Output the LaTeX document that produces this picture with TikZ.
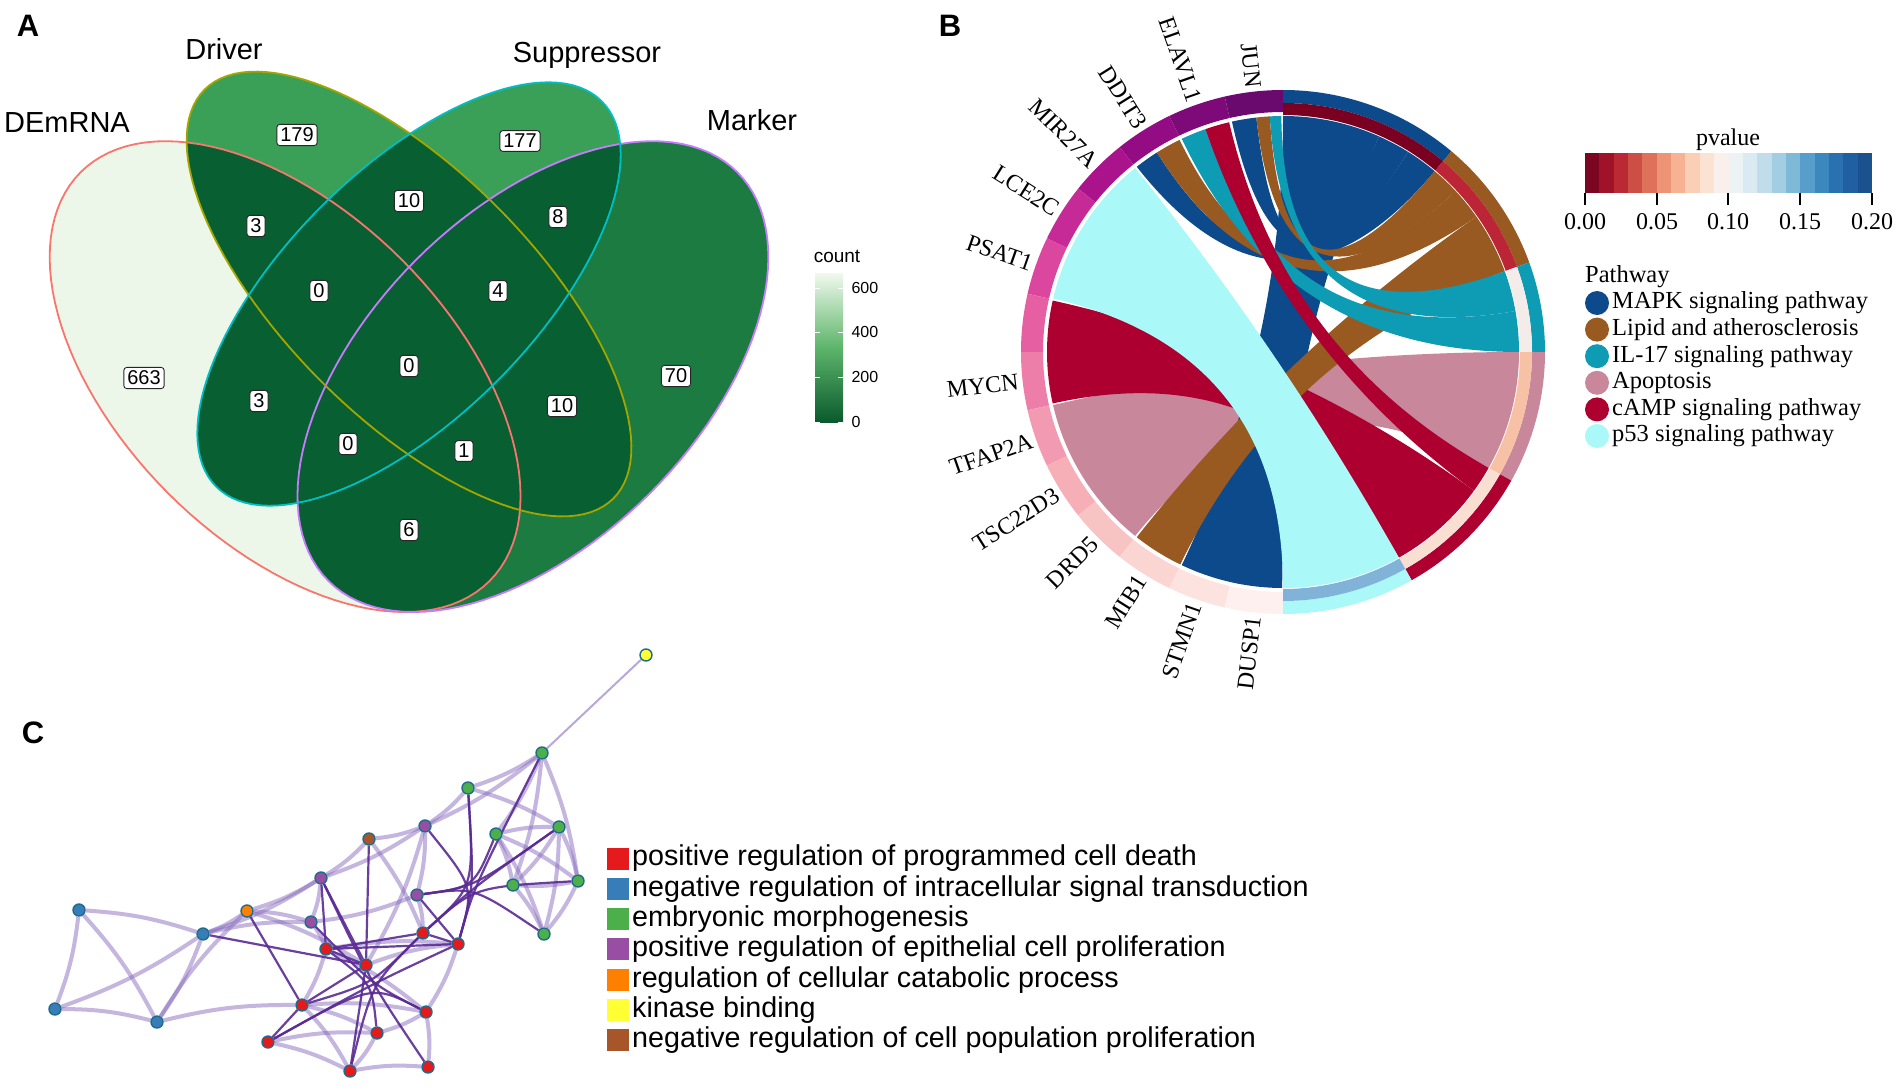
\documentclass[tikz,border=0pt]{standalone}
\usepackage{fontspec}
\setmainfont{Liberation Serif}
\setsansfont{Liberation Sans}
\usetikzlibrary{backgrounds}

\newcommand\fsz[1]{\fontsize{#1}{#1}\selectfont}

% venn colours
\definecolor{vLight}{HTML}{EDF7E9}
\definecolor{vMid}{HTML}{3A9F57}
\definecolor{vMrk}{HTML}{1B7B40}
\definecolor{vDark}{HTML}{085F31}
\definecolor{lnDEm}{HTML}{F8766D}
\definecolor{lnDrv}{HTML}{A3A500}
\definecolor{lnSup}{HTML}{00BFC4}
\definecolor{lnMrk}{HTML}{C77CFF}
\definecolor{cntTop}{HTML}{F1F9EE}
\definecolor{cntMid}{HTML}{5DB56B}
\definecolor{cntBot}{HTML}{0A5A2D}
% chord colours
\definecolor{pMAPK}{HTML}{0C4A8C}
\definecolor{pLipid}{HTML}{985A20}
\definecolor{pIL}{HTML}{0E9BB4}
\definecolor{pApop}{HTML}{C8879A}
\definecolor{pCAMP}{HTML}{AE0030}
\definecolor{pPft}{HTML}{AAF8F7}
\definecolor{sMAPK}{HTML}{7A0022}
\definecolor{sLipid}{HTML}{BB2535}
\definecolor{sIL}{HTML}{F3ECE8}
\definecolor{sApop}{HTML}{F6C1A5}
\definecolor{sCAMP}{HTML}{F9DED2}
\definecolor{sPft}{HTML}{80B3D7}
\definecolor{gn0}{HTML}{6A0A6E}
\definecolor{gn1}{HTML}{7D0A78}
\definecolor{gn2}{HTML}{930C84}
\definecolor{gn3}{HTML}{AA138C}
\definecolor{gn4}{HTML}{C62A96}
\definecolor{gn5}{HTML}{DB469E}
\definecolor{gn6}{HTML}{E65FA3}
\definecolor{gn7}{HTML}{ED7EAA}
\definecolor{gn8}{HTML}{F39AB3}
\definecolor{gn9}{HTML}{F6AFB7}
\definecolor{gn10}{HTML}{F8C3C3}
\definecolor{gn11}{HTML}{FAD5D1}
\definecolor{gn12}{HTML}{FCE3DF}
\definecolor{gn13}{HTML}{FDF0EE}
\definecolor{rb0}{HTML}{67001F}
\definecolor{rb1}{HTML}{B2182B}
\definecolor{rb2}{HTML}{D6604D}
\definecolor{rb3}{HTML}{F4A582}
\definecolor{rb4}{HTML}{FDDBC7}
\definecolor{rb5}{HTML}{F7F7F7}
\definecolor{rb6}{HTML}{D1E5F0}
\definecolor{rb7}{HTML}{92C5DE}
\definecolor{rb8}{HTML}{4393C3}
\definecolor{rb9}{HTML}{2166AC}
\definecolor{rb10}{HTML}{1A4A85}
% network colours
\definecolor{cRed}{HTML}{E41A1C}
\definecolor{cBlue}{HTML}{377EB8}
\definecolor{cGreen}{HTML}{4DAF4A}
\definecolor{cPurple}{HTML}{984EA3}
\definecolor{cOrange}{HTML}{FF7F00}
\definecolor{cYellow}{HTML}{FFFF33}
\definecolor{cBrown}{HTML}{A65628}
\definecolor{nodeRim}{HTML}{1F6B8C}
\definecolor{eLight}{HTML}{8A6EC0}
\definecolor{eDark}{HTML}{5A2B94}

% the four venn ellipses (unit coordinates)
\def\ellDEm{plot[domain=0:360,samples=121,variable=\vt] ({-0.15-0.7071*(0.35*cos(\vt)+0.20*sin(\vt))},{-0.10+0.7071*(0.35*cos(\vt)-0.20*sin(\vt))}) -- cycle}
\def\ellDrv{plot[domain=0:360,samples=121,variable=\vt] ({-0.7071*(0.35*cos(\vt)+0.15*sin(\vt))},{0.7071*(0.35*cos(\vt)-0.15*sin(\vt))}) -- cycle}
\def\ellSup{plot[domain=0:360,samples=121,variable=\vt] ({0.7071*(0.33*cos(\vt)-0.15*sin(\vt))},{0.7071*(0.33*cos(\vt)+0.15*sin(\vt))}) -- cycle}
\def\ellMrk{plot[domain=0:360,samples=121,variable=\vt] ({0.15+0.7071*(0.35*cos(\vt)-0.20*sin(\vt))},{-0.10+0.7071*(0.35*cos(\vt)+0.20*sin(\vt))}) -- cycle}

% ribbon from gene arc #1-#2 to pathway arc #3-#4
\newcommand\chord[5]{\fill[#5] (#1:236) arc[start angle=#1, end angle=#2, radius=236] .. controls (#2:78.7) and (#3:78.7) .. (#3:236) arc[start angle=#3, end angle=#4, radius=236] .. controls (#4:78.7) and (#1:78.7) .. cycle;}

\begin{document}
\begin{tikzpicture}[x=1pt,y=-1pt,
    vnum/.style={draw=black!85, fill=white, rounded corners=3pt, line width=0.9pt, inner sep=3.5pt, font=\sffamily\fsz{20}},
    setlab/.style={font=\sffamily\fsz{29}},
    panel/.style={font=\sffamily\bfseries\fsz{31}},
    genelab/.style={font=\fsz{24}, inner sep=0pt},
    legtext/.style={font=\fsz{24.5}, anchor=west, inner sep=0pt},
    cnode/.style={circle, draw=nodeRim, line width=1.4pt, minimum size=12pt, inner sep=0pt},
    weak/.style={draw=eLight, line width=4pt, opacity=0.5},
    strong/.style={draw=eDark, line width=2.2pt, opacity=0.9},
    golab/.style={font=\sffamily\fsz{28.7}, anchor=west, inner sep=0pt}]
    \useasboundingbox (0,0) rectangle (1902,1091);

    \node[panel] (labA) at (28,26) {A};
    \node[panel] (labB) at (950,26) {B};
    \node[panel] (labC) at (33,733) {C};

    % ---- A: venn
    \begin{scope}[shift={(409,294)}, x=826pt, y=826pt]
    \fill[vLight] \ellDEm;
    \fill[vMid] \ellDrv;
    \fill[vMid] \ellSup;
    \fill[vMrk] \ellMrk;
    \begin{scope}
        \clip \ellDEm;
        \fill[vDark] \ellDrv; \fill[vDark] \ellSup; \fill[vDark] \ellMrk;
    \end{scope}
    \begin{scope}
        \clip \ellDrv;
        \fill[vDark] \ellSup; \fill[vDark] \ellMrk;
    \end{scope}
    \begin{scope}
        \clip \ellSup;
        \fill[vDark] \ellMrk;
    \end{scope}
    \draw[lnDEm, line width=1.8pt] \ellDEm;
    \draw[lnMrk, line width=1.8pt] \ellMrk;
    \draw[lnDrv, line width=1.8pt] \ellDrv;
    \draw[lnSup, line width=1.8pt] \ellSup;
    \end{scope}

    \node[setlab] (setDEm) at (67,123) {DEmRNA};
    \node[setlab] (setDrv) at (224,49) {Driver};
    \node[setlab] (setSup) at (587,55) {Suppressor};
    \node[setlab] (setMrk) at (752,120) {Marker};

    \foreach \num/\px/\py [count=\i] in {179/297/135, 177/520/141, 3/256/226, 10/409/201, 8/558/217, 0/319/291, 4/498/291, 663/144/378, 0/409/366, 70/676/376, 3/259/401, 10/562/406, 0/348/444, 1/464/451, 6/409/530}
        \node[vnum] (vn\i) at (\px,\py) {\num};

    % count legend
    \node[font=\sffamily\fsz{19}] (cntTitle) at (837,256) {count};
    \shade[top color=cntTop, bottom color=cntBot, middle color=cntMid] (815,273) rectangle (843,422);
    \foreach \v/\py in {600/288, 400/332, 200/377, 0/422} {
        \draw[white, line width=1pt] (815,\py) -- (820,\py) (838,\py) -- (843,\py);
        \node[font=\sffamily\fsz{16}, anchor=west] (cnt\v) at (848,\py) {\v};
    }

    % ---- B: chord diagram
    \begin{scope}[shift={(1283,352)}, x=1pt, y=1pt]
    \foreach \k in {0,...,13} {
        \pgfmathsetmacro\ga{90+\k*180/14}
        \pgfmathsetmacro\gb{90+(\k+1)*180/14}
        \fill[gn\k] (\ga:262) arc[start angle=\ga, end angle=\gb, radius=262] -- (\gb:240) arc[start angle=\gb, end angle=\ga, radius=240] -- cycle;
    }
    \foreach \sa/\sb/\cp/\cv in {50/90/pMAPK/sMAPK, 20/50/pLipid/sLipid, 0/20/pIL/sIL, -29.4/0/pApop/sApop, -60.6/-29.4/pCAMP/sCAMP, -90/-60.6/pPft/sPft} {
        \fill[\cp] (\sa:262) arc[start angle=\sa, end angle=\sb, radius=262] -- (\sb:249) arc[start angle=\sb, end angle=\sa, radius=249] -- cycle;
        \fill[\cv] (\sa:249) arc[start angle=\sa, end angle=\sb, radius=249] -- (\sb:237) arc[start angle=\sb, end angle=\sa, radius=237] -- cycle;
    }
    \chord{193}{231.2}{-29.4}{0}{pApop}
    \chord{167.4}{192.6}{-60.6}{-36}{pCAMP}
    \chord{244.6}{269.8}{66}{90}{pMAPK}
    \chord{231.7}{244.2}{20}{35}{pLipid}
    \chord{128.8}{166.9}{-90}{-60.6}{pPft}
    \chord{122.3}{128.3}{50}{58}{pMAPK}
    \chord{116}{122.3}{35}{43}{pLipid}
    \chord{109.2}{115.4}{0}{10}{pIL}
    \chord{96.5}{102.5}{58}{66}{pMAPK}
    \chord{93.2}{96.5}{43}{50}{pLipid}
    \chord{90.4}{93.2}{10}{20}{pIL}
    \chord{103.2}{109.2}{-36}{-29.4}{pCAMP}
    \foreach \k/\g in {0/JUN, 1/ELAVL1, 2/DDIT3, 3/MIR27A, 4/LCE2C, 5/PSAT1, 7/MYCN, 8/TFAP2A, 9/TSC22D3, 10/DRD5, 11/MIB1, 12/STMN1, 13/DUSP1} {
        \pgfmathsetmacro\gm{90+(\k+0.5)*180/14}
        \pgfmathsetmacro\gr{\gm-180}
        \node[genelab, rotate=\gr, anchor=east] (gene\k) at (\gm:266) {\g};
    }
    \end{scope}

    % pvalue legend
    \node[font=\fsz{24}] (pvTitle) at (1728,140) {pvalue};
    \foreach \i in {0,...,19} {
        \pgfmathsetmacro\pvt{(\i+0.5)/2}
        \pgfmathtruncatemacro\kk{floor(\pvt)}
        \pgfmathtruncatemacro\kn{\kk+1}
        \pgfmathtruncatemacro\pp{round((\pvt-\kk)*100)}
        \fill[rb\kn!\pp!rb\kk] ({1585+\i*14.35},153) rectangle ({1585+(\i+1)*14.35+0.3},193);
    }
    \foreach \tk/\px in {0.00/1585, 0.05/1657, 0.10/1728, 0.15/1800, 0.20/1872} {
        \draw[line width=1.4pt] (\px,193) -- (\px,205);
        \node[font=\fsz{24}] (tk\px) at (\px,222) {\tk};
    }
    \node[legtext] (pwTitle) at (1585,277) {Pathway};
    \foreach \c/\lbl [count=\i from 0] in {pMAPK/MAPK signaling pathway, pLipid/Lipid and atherosclerosis, pIL/IL-17 signaling pathway, pApop/Apoptosis, pCAMP/cAMP signaling pathway, pPft/p53 signaling pathway} {
        \node[circle, fill=\c, minimum size=24pt, inner sep=0pt] (pwDot\i) at (1597,{303+26.6*\i}) {};
        \node[legtext] (pwText\i) at (1612,{303+26.6*\i}) {\lbl};
    }

    % ---- C: network
    \foreach \n/\px/\py/\c in {yel/646/655/cYellow, a/542/753/cGreen, b/468/788/cGreen, c/425/826/cPurple, d/496/834/cGreen, e/559/827/cGreen, f/369/839/cBrown, g/321/878/cPurple, h/578/881/cGreen, i/513/885/cGreen, j/417/895/cPurple, k/79/910/cBlue, l/247/911/cOrange, m/311/922/cPurple, n/544/934/cGreen, o/203/934/cBlue, p/423/933/cRed, q/458/944/cRed, r/326/949/cRed, s/366/965/cRed, t/55/1009/cBlue, u/157/1022/cBlue, v/302/1005/cRed, w/426/1012/cRed, x/377/1033/cRed, y/268/1042/cRed, z/350/1071/cRed, aa/428/1067/cRed}
        \node[cnode, fill=\c] (\n) at (\px,\py) {};
    \coordinate (hubUp) at (474,887);
    \coordinate (hubLow) at (372,984);

    \begin{pgfonlayer}{background}
    \fill[white] (0,0) rectangle (1902,1091);
    \draw[draw=eLight, line width=2pt, opacity=0.6] (yel) -- (a);
    \foreach \p/\q in {a/b, a/c, a/d, a/h, a/i, b/c, b/e, c/f, c/g, c/j, d/e, d/h, d/i, e/h, e/n, e/i, h/n, h/i, i/n, f/g, g/m, g/l, g/o, j/p, j/m, k/o, k/t, k/u, l/o, l/m, l/s, m/r, o/t, o/u, o/m, q/w, r/v, t/u, u/v, u/l, v/w, v/z, w/x, x/z, y/z, z/aa, w/aa, r/w, s/q, c/s, f/p, d/n, v/x, y/x, r/q}
        \draw[weak] (\p) to[bend left=7] (\q);
    \foreach \p/\q in {b/p, b/q, d/j, e/p, e/j, a/q, n/j, h/p, c/q}
        \draw[strong] (\p) .. controls (hubUp) .. (\q);
    \foreach \p/\q in {g/aa, m/w, r/x, y/q, v/p, z/p, y/w}
        \draw[strong] (\p) .. controls (hubLow) .. (\q);
    \foreach \p/\q in {f/s, g/r, g/s, o/s, p/q, p/r, q/r, r/s, s/v, s/z, v/y, l/v, j/q}
        \draw[strong] (\p) -- (\q);
    \end{pgfonlayer}

    \foreach \c/\lbl [count=\i from 0] in {cRed/positive regulation of programmed cell death, cBlue/negative regulation of intracellular signal transduction, cGreen/embryonic morphogenesis, cPurple/positive regulation of epithelial cell proliferation, cOrange/regulation of cellular catabolic process, cYellow/kinase binding, cBrown/negative regulation of cell population proliferation} {
        \node[fill=\c, minimum width=22pt, minimum height=22pt, inner sep=0pt] (goSq\i) at (618,{858.5+30.3*\i}) {};
        \node[golab] (goText\i) at (632,{858.5+30.3*\i}) {\lbl};
    }
\end{tikzpicture}
\end{document}
